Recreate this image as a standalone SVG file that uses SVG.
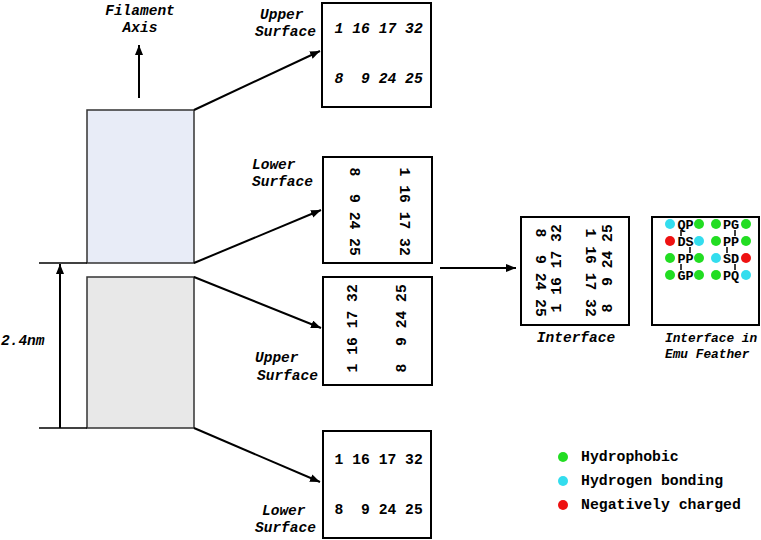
<svg xmlns="http://www.w3.org/2000/svg" width="761" height="540" viewBox="0 0 761 540">
<defs>
<marker id="ah" markerUnits="userSpaceOnUse" markerWidth="11" markerHeight="9" refX="10" refY="4" orient="auto">
<path d="M0,0 L10,4 L0,8 z" fill="#000"/>
</marker>
<style>
.lbl{font-family:"Liberation Mono","Courier New",monospace;font-weight:bold;font-style:italic;font-size:14.5px;fill:#000}
.sm{font-size:12.8px}
.num{font-family:"Liberation Mono","Courier New",monospace;font-weight:bold;font-size:14.7px;fill:#000;white-space:pre}
.numi{font-style:italic}
.leg{font-family:"Liberation Mono","Courier New",monospace;font-weight:bold;font-size:14.8px;fill:#000}
.aa{font-family:"Liberation Mono","Courier New",monospace;font-weight:bold;font-size:13.5px;fill:#000;text-anchor:middle}
.box{fill:#fff;stroke:#000;stroke-width:2}
.con{stroke:#000;stroke-width:2;fill:none}
.tick{stroke:#000;stroke-width:1.5}
.g{fill:#22dd22}.c{fill:#33ddee}.r{fill:#ee1111}
</style>
</defs>

<g id="filament-axis">
<text class="lbl" x="140" y="15" text-anchor="middle">Filament</text>
<text class="lbl" x="140" y="32" text-anchor="middle">Axis</text>
</g>

<g id="upper-block">
<rect x="87" y="110" width="107" height="153" fill="#e8ecf7" stroke="#333" stroke-width="1.5"/>
</g>
<g id="lower-block">
<rect x="87" y="277" width="107" height="151" fill="#e8e8e8" stroke="#333" stroke-width="1.5"/>
</g>

<g id="dimension">
<line x1="39" y1="263" x2="87" y2="263" stroke="#000" stroke-width="1.5"/>
<line x1="39" y1="428" x2="87" y2="428" stroke="#000" stroke-width="1.5"/>
<text class="lbl" x="1" y="345">2.4nm</text>
</g>

<g id="box-top">
<rect class="box" x="322" y="3" width="109" height="104"/>
<text class="num numi" x="334.6" y="33">1 16 17 32</text>
<text class="num numi" x="334.6" y="83">8  9 24 25</text>
<text class="lbl" x="260" y="19">Upper</text>
<text class="lbl" x="255" y="36">Surface</text>
</g>

<g id="box-lower-surface">
<rect class="box" x="323" y="157" width="109" height="106"/>
<text class="num" transform="translate(354,167.6) rotate(90)" x="0" y="4.4">8  9 24 25</text>
<text class="num" transform="translate(404,167.6) rotate(90)" x="0" y="4.4">1 16 17 32</text>
<text class="lbl" x="252" y="169">Lower</text>
<text class="lbl" x="252" y="186">Surface</text>
</g>

<g id="box-upper-surface">
<rect class="box" x="323" y="277" width="109" height="108"/>
<text class="num" transform="translate(353,372.4) rotate(-90)" x="0" y="4.4">1 16 17 32</text>
<text class="num" transform="translate(402,372.4) rotate(-90)" x="0" y="4.4">8  9 24 25</text>
<text class="lbl" x="255" y="362">Upper</text>
<text class="lbl" x="257" y="380">Surface</text>
</g>

<g id="box-bottom">
<rect class="box" x="323" y="431" width="108" height="107"/>
<text class="num" x="334.6" y="464">1 16 17 32</text>
<text class="num" x="334.6" y="514">8  9 24 25</text>
<text class="lbl" x="262" y="515">Lower</text>
<text class="lbl" x="255" y="532">Surface</text>
</g>

<g id="interface">
<rect class="box" x="521" y="217" width="108" height="108"/>
<text class="num" transform="translate(540,228.6) rotate(90)" x="0" y="4.4">8  9 24 25</text>
<text class="num" transform="translate(557,312.4) rotate(-90)" x="0" y="4.4">1 16 17 32</text>
<text class="num" transform="translate(590,228.6) rotate(90)" x="0" y="4.4">1 16 17 32</text>
<text class="num" transform="translate(608,312.4) rotate(-90)" x="0" y="4.4">8  9 24 25</text>
<text class="lbl" x="576" y="342" text-anchor="middle">Interface</text>
</g>

<g id="emu-interface">
<rect class="box" x="652" y="217" width="107" height="108"/>
<circle class="c" cx="670" cy="224" r="5"/><text class="aa" x="685.5" y="228.5">QP</text><circle class="g" cx="699" cy="224" r="5"/>
<circle class="r" cx="670" cy="241" r="5"/><text class="aa" x="685.5" y="245.5">DS</text><circle class="c" cx="699" cy="241" r="5"/>
<circle class="g" cx="670" cy="258" r="5"/><text class="aa" x="685.5" y="262.5">PP</text><circle class="g" cx="699" cy="258" r="5"/>
<circle class="g" cx="670" cy="275" r="5"/><text class="aa" x="685.5" y="279.5">GP</text><circle class="g" cx="699" cy="275" r="5"/>
<line class="tick" x1="681" y1="230" x2="681" y2="236"/>
<line class="tick" x1="690" y1="247" x2="690" y2="253"/>
<line class="tick" x1="681" y1="264" x2="681" y2="270"/>
<circle class="g" cx="716" cy="224" r="5"/><text class="aa" x="731" y="228.5">PG</text><circle class="g" cx="746" cy="224" r="5"/>
<circle class="g" cx="716" cy="241" r="5"/><text class="aa" x="731" y="245.5">PP</text><circle class="g" cx="746" cy="241" r="5"/>
<circle class="c" cx="716" cy="258" r="5"/><text class="aa" x="731" y="262.5">SD</text><circle class="r" cx="746" cy="258" r="5"/>
<circle class="g" cx="716" cy="275" r="5"/><text class="aa" x="731" y="279.5">PQ</text><circle class="c" cx="746" cy="275" r="5"/>
<line class="tick" x1="735" y1="230" x2="735" y2="236"/>
<line class="tick" x1="727" y1="247" x2="727" y2="253"/>
<line class="tick" x1="735" y1="264" x2="735" y2="270"/>
<text class="lbl sm" x="665" y="342">Interface in</text>
<text class="lbl sm" x="665" y="358">Emu Feather</text>
</g>

<g id="legend">
<circle class="g" cx="563" cy="457" r="5"/>
<text class="leg" x="581" y="461">Hydrophobic</text>
<circle class="c" cx="563" cy="481" r="5"/>
<text class="leg" x="581" y="485">Hydrogen bonding</text>
<circle class="r" cx="563" cy="505" r="5"/>
<text class="leg" x="581" y="509">Negatively charged</text>
</g>

<g id="connectors">
<line class="con" x1="139" y1="98" x2="139" y2="45" marker-end="url(#ah)"/>
<line class="con" x1="60" y1="428" x2="60" y2="264" marker-end="url(#ah)"/>
<line class="con" x1="194" y1="110" x2="320" y2="51" marker-end="url(#ah)"/>
<line class="con" x1="194" y1="263" x2="321" y2="210" marker-end="url(#ah)"/>
<line class="con" x1="194" y1="277" x2="321" y2="328" marker-end="url(#ah)"/>
<line class="con" x1="194" y1="428" x2="320" y2="482" marker-end="url(#ah)"/>
<line class="con" x1="440" y1="268" x2="516" y2="268" marker-end="url(#ah)"/>
</g>
</svg>
